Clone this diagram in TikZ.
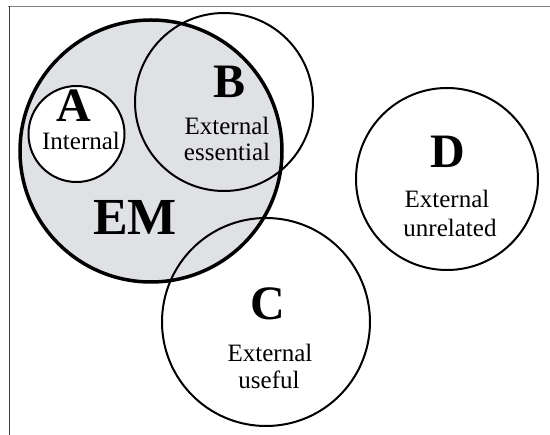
\documentclass[tikz,border=0pt]{standalone}
\usepackage{fontspec}
\setmainfont{Liberation Serif}
\definecolor{emgray}{RGB}{224,225,228}
\definecolor{frametop}{RGB}{128,128,128}
\definecolor{frameleft}{RGB}{60,60,60}
\begin{document}
\begin{tikzpicture}[x=1pt,y=-1pt,
  ring/.style={circle,draw=black,line width=2pt,inner sep=0pt},
  big/.style={font=\fontsize{48}{48}\selectfont\bfseries,anchor=base,inner sep=0pt},
  lbl/.style={font=\fontsize{25}{25}\selectfont,anchor=base,inner sep=0pt}]
\useasboundingbox (0,0) rectangle (550,435);
% frame
\coordinate (tl) at (8,6.5);
\coordinate (tr) at (550,6.5);
\coordinate (lt) at (9.3,6);
\coordinate (bl) at (9.3,435);
\draw[frametop,line width=1.5pt] (tl) -- (tr);
\draw[frameleft,line width=1.5pt] (lt) -- (bl);
% circles
\node[ring,fill=emgray,draw=none,minimum size=262pt] (emfill) at (151,151) {};
\node[ring,fill=white,minimum size=96pt] (a) at (76.5,134) {};
\node[ring,minimum size=178pt] (b) at (224,102) {};
\node[ring,minimum size=208pt] (c) at (266,322) {};
\node[ring,minimum size=182pt] (d) at (447,179) {};
\node[ring,line width=3.5pt,minimum size=262pt] (em) at (151,151) {};
% labels
\node[big] (la) at (74,122) {A};
\node[lbl] (ta) at (81,150) {Internal};
\node[big] (lb) at (230,98) {B};
\node[lbl] (tb1) at (227,135) {External};
\node[lbl] (tb2) at (227,161) {essential};
\node[big,font=\fontsize{52}{52}\selectfont\bfseries] (lem) at (135,235) {EM};
\node[big] (lc) at (268,320) {C};
\node[lbl] (tc1) at (270,362) {External};
\node[lbl] (tc2) at (269,389) {useful};
\node[big] (ld) at (448,168) {D};
\node[lbl] (td1) at (447,208) {External};
\node[lbl] (td2) at (450,237) {unrelated};
\end{tikzpicture}
\end{document}
